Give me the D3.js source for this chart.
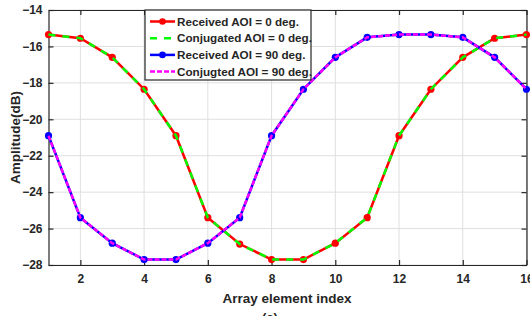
<!doctype html>
<html>
<head>
<meta charset="utf-8">
<script src="https://d3js.org/d3.v7.min.js"></script>
<style>
  body { margin:0; background:#fff; }
  text { font-family:"Liberation Sans", Arial, sans-serif; font-weight:bold; fill:#262626; }
</style>
</head>
<body>
<svg id="chart" width="530" height="316"></svg>
<script>
// chart values
const elementIndex = d3.range(1, 17);
const recv0  = [-15.35, -15.55, -16.6, -18.35, -20.9, -25.4, -26.85, -27.7, -27.7, -26.8, -25.4, -20.9, -18.35, -16.6, -15.55, -15.35];
const conj0  = recv0.slice();
const recv90 = [-20.9, -25.4, -26.8, -27.7, -27.7, -26.8, -25.4, -20.9, -18.35, -16.6, -15.5, -15.35, -15.35, -15.5, -16.6, -18.35];
const conj90 = recv90.slice();
const xTicks = [2, 4, 6, 8, 10, 12, 14, 16];
const yTicks = [-28, -26, -24, -22, -20, -18, -16, -14];
const legendLabels = ["Received AOI = 0 deg.", "Conjugated AOI = 0 deg.", "Received AOI = 90 deg.", "Conjugted AOI = 90 deg."];

const svg = d3.select("#chart");
const L = 48.5, R = 526.5, T = 10, B = 265;

const x = d3.scaleLinear().domain([1, 16]).range([L, R]);
const y = d3.scaleLinear().domain([-28, -14]).range([B, T]);

// grid
svg.append("g").selectAll("line").data(xTicks).join("line")
  .attr("x1", d => x(d)).attr("x2", d => x(d)).attr("y1", T).attr("y2", B)
  .attr("stroke", "#dfdfdf").attr("stroke-width", 1);
svg.append("g").selectAll("line").data(yTicks).join("line")
  .attr("x1", L).attr("x2", R).attr("y1", d => y(d)).attr("y2", d => y(d))
  .attr("stroke", "#dfdfdf").attr("stroke-width", 1);

// axes
svg.append("g").attr("transform", `translate(0,${B})`)
  .call(d3.axisBottom(x).tickValues(xTicks).tickSizeInner(-5).tickSizeOuter(0).tickPadding(9));
svg.append("g").attr("transform", `translate(${L},0)`)
  .call(d3.axisLeft(y).tickValues(yTicks).tickSizeInner(-5).tickSizeOuter(0).tickPadding(6));
svg.append("g").attr("transform", `translate(0,${T})`)
  .call(d3.axisTop(x).tickValues(xTicks).tickSizeInner(-5).tickSizeOuter(0).tickFormat(""));
svg.append("g").attr("transform", `translate(${R},0)`)
  .call(d3.axisRight(y).tickValues(yTicks).tickSizeInner(-5).tickSizeOuter(0).tickFormat(""));
svg.selectAll(".domain, .tick line").attr("stroke", "#262626").attr("stroke-width", 1.2);
svg.selectAll(".tick text").attr("font-size", 12).attr("font-family", "Liberation Sans, Arial, sans-serif")
  .attr("font-weight", "bold").attr("fill", "#262626");

// axis labels
svg.append("text").attr("x", 287).attr("y", 303).attr("text-anchor", "middle")
  .attr("font-size", 13.5).text("Array element index");
svg.append("text").attr("transform", `translate(20,${(T + B) / 2}) rotate(-90)`)
  .attr("text-anchor", "middle").attr("font-size", 13.5).text("Amplitude(dB)");
svg.append("text").attr("x", 270).attr("y", 322).attr("text-anchor", "middle")
  .attr("font-size", 13).attr("font-weight", "normal").text("(a)");

const line = d3.line().x((d, i) => x(elementIndex[i])).y(d => y(d));

const series = [
  { data: recv0,  color: "#ff0000", dash: null,  marker: true },
  { data: conj0,  color: "#00ff00", dash: "7,7", marker: false },
  { data: recv90, color: "#0000ff", dash: null,  marker: true },
  { data: conj90, color: "#ff00ff", dash: "5,2", marker: false }
];

series.forEach(s => {
  svg.append("path").datum(s.data).attr("d", line)
    .attr("fill", "none").attr("stroke", s.color).attr("stroke-width", 2.5)
    .attr("stroke-dasharray", s.dash);
  if (s.marker) {
    svg.append("g").selectAll("circle").data(s.data).join("circle")
      .attr("cx", (d, i) => x(elementIndex[i])).attr("cy", d => y(d)).attr("r", 3.6)
      .attr("fill", s.color);
  }
});

// legend
const lg = svg.append("g");
lg.append("rect").attr("x", 145).attr("y", 10).attr("width", 166).attr("height", 70)
  .attr("fill", "#fff").attr("stroke", "#262626").attr("stroke-width", 1.2);
series.forEach((s, i) => {
  const yy = 21.5 + i * 16.7;
  lg.append("line").attr("x1", 150).attr("x2", 175).attr("y1", yy).attr("y2", yy)
    .attr("stroke", s.color).attr("stroke-width", 2.5).attr("stroke-dasharray", s.dash);
  if (s.marker) lg.append("circle").attr("cx", 162.5).attr("cy", yy).attr("r", 3.3).attr("fill", s.color);
  lg.append("text").attr("x", 177).attr("y", yy + 4.2).attr("font-size", 11.7).text(legendLabels[i]);
});
</script>
</body>
</html>
